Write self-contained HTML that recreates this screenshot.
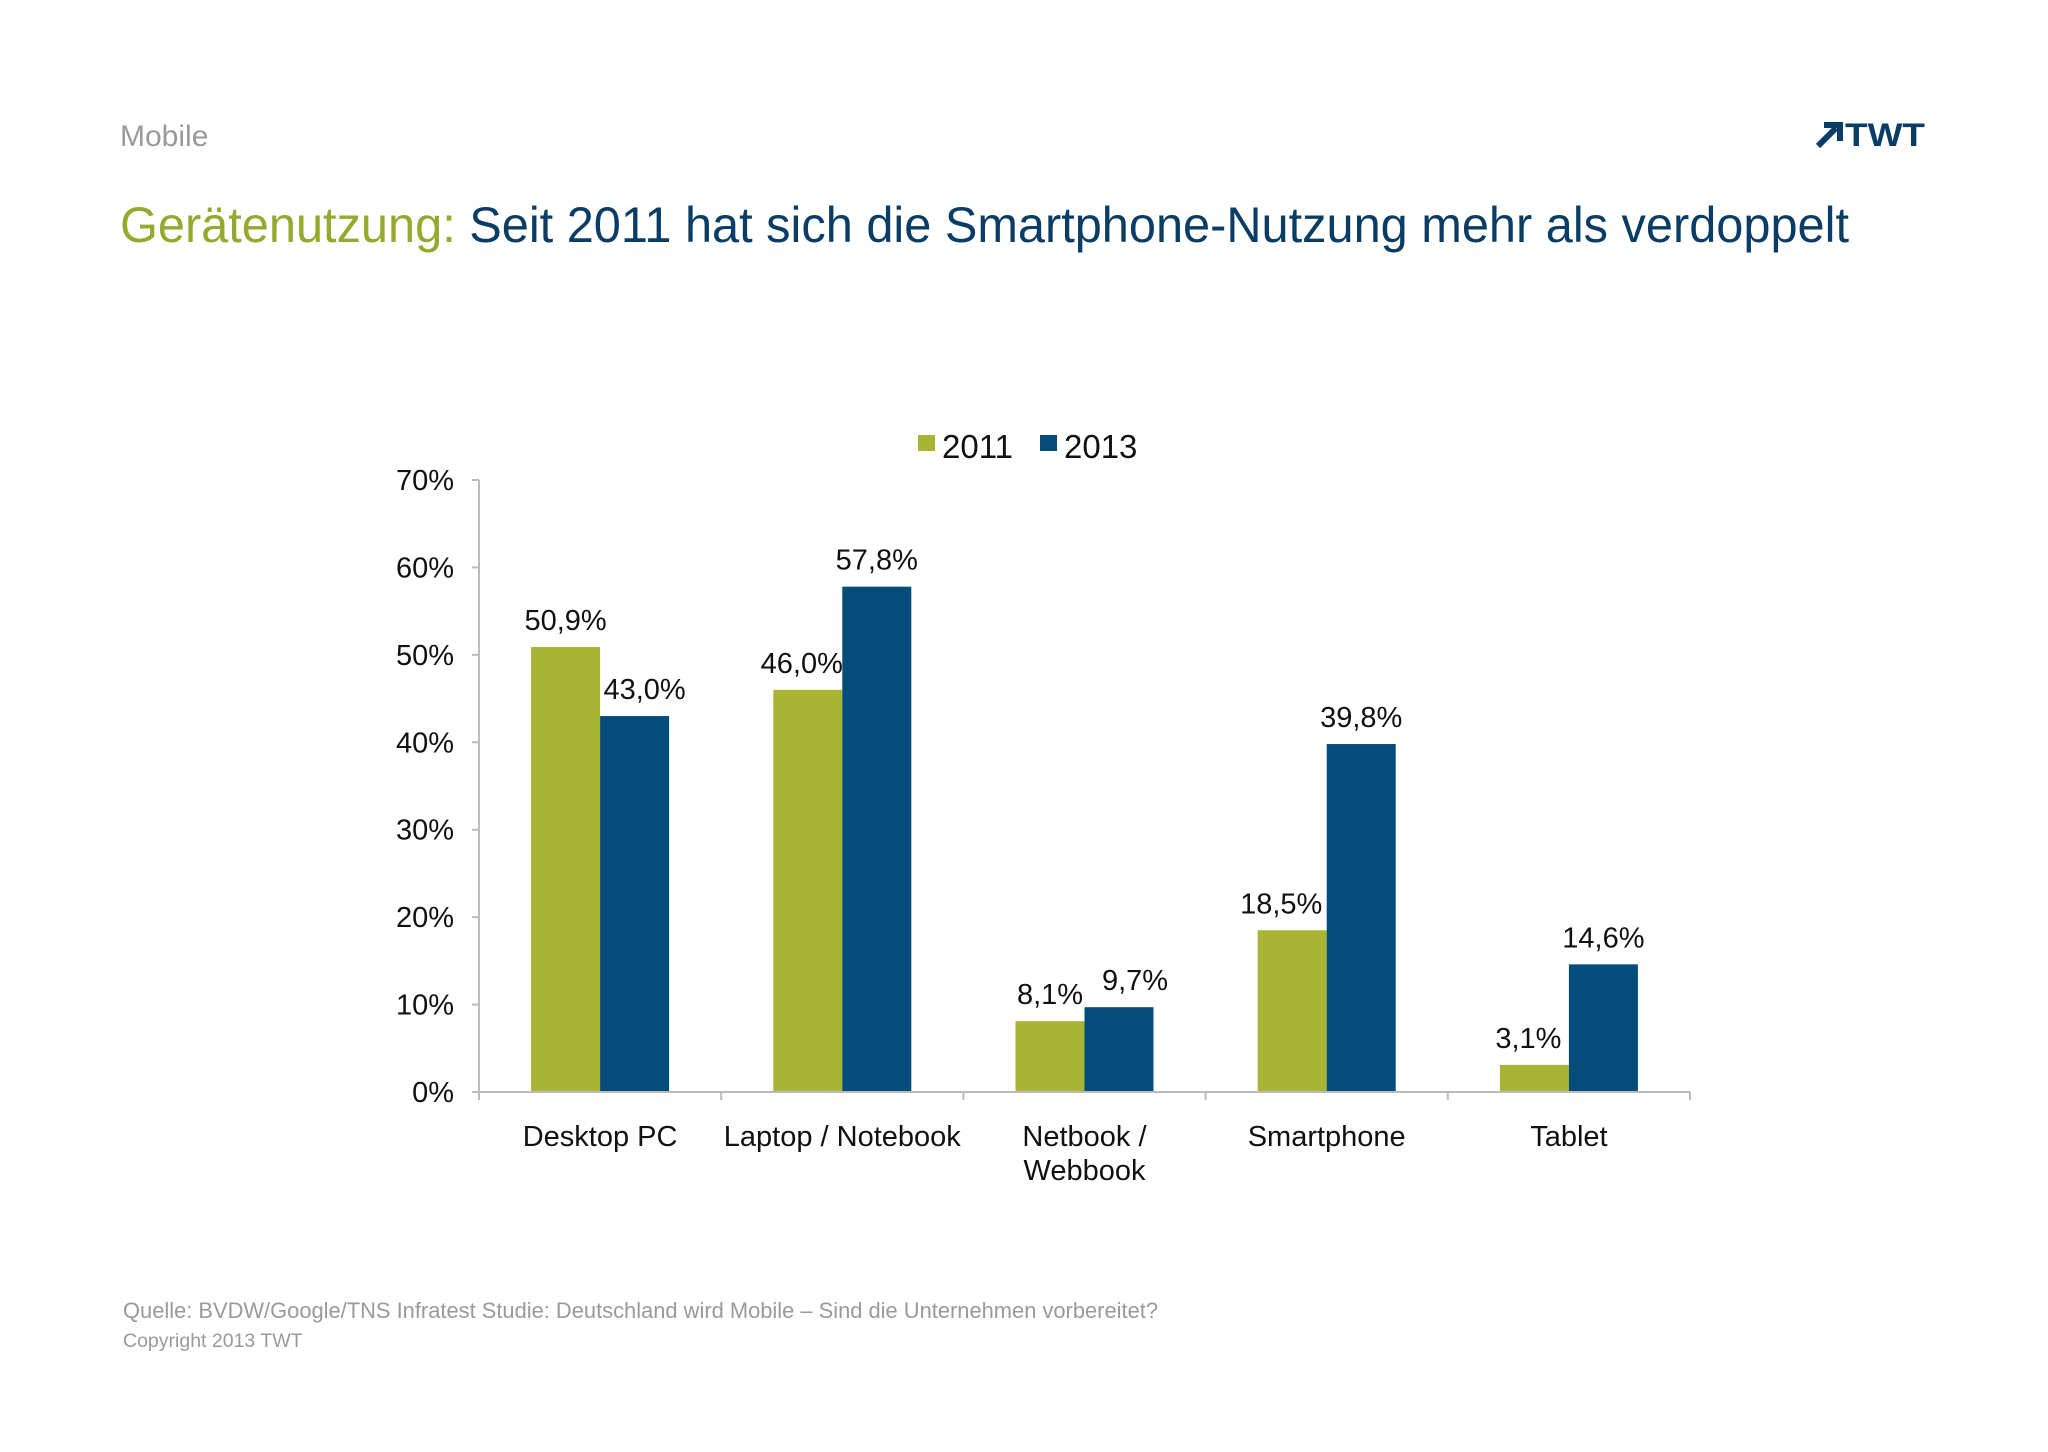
<!DOCTYPE html>
<html><head><meta charset="utf-8"><style>
body{margin:0;background:#fff;}
svg text{font-family:"Liberation Sans",Arial,sans-serif;}
</style></head><body>
<svg width="2048" height="1447" viewBox="0 0 2048 1447" xmlns="http://www.w3.org/2000/svg">
<text x="120" y="146" font-size="30" fill="#9a9a9a">Mobile</text>
<g>
<path d="M1818 146 L1836 128 M1824 125 L1840 125 L1840 141" stroke="#0a3d66" stroke-width="6" fill="none"/>
<text x="1845" y="146" font-size="32" font-weight="bold" fill="#0a3d66" textLength="80" lengthAdjust="spacingAndGlyphs">TWT</text>
</g>
<text x="120" y="242" font-size="50" textLength="1729" lengthAdjust="spacingAndGlyphs"><tspan fill="#95a92e">Gerätenutzung:</tspan><tspan fill="#0a3d66"> Seit 2011 hat sich die Smartphone-Nutzung mehr als verdoppelt</tspan></text>
<g id="legend">
<rect x="918" y="435" width="17" height="16" fill="#a8b534"/>
<text x="942" y="458" font-size="33" fill="#111">2011</text>
<rect x="1040" y="435" width="17" height="16" fill="#044c7a"/>
<text x="1064" y="458" font-size="33" fill="#111">2013</text>
</g>
<g id="chart"></g>
<text x="123" y="1318" font-size="21.8" fill="#9a9a9a" textLength="1035" lengthAdjust="spacingAndGlyphs">Quelle: BVDW/Google/TNS Infratest Studie: Deutschland wird Mobile – Sind die Unternehmen vorbereitet?</text>
<text x="123" y="1347" font-size="19.5" fill="#9a9a9a">Copyright 2013 TWT</text>
</svg>
<script>
const categories=[["Desktop PC"],["Laptop / Notebook"],["Netbook /","Webbook"],["Smartphone"],["Tablet"]];
const values2011=[50.9,46.0,8.1,18.5,3.1];
const values2013=[43.0,57.8,9.7,39.8,14.6];
const yTicks=[0,10,20,30,40,50,60,70];
const labelNudge=[[0,10],[-6,0],[0,16],[-11,0],[-6,0]];
const NS="http://www.w3.org/2000/svg";
const g=document.getElementById('chart');
const X0=479,X1=1690,Y0=1092,Y70=480,YMAX=70;
const cw=(X1-X0)/categories.length, bw=69, gap=(cw-2*bw)/2;
function y(v){return Y0-(v/YMAX)*(Y0-Y70);}
function mk(t,a,txt){const e=document.createElementNS(NS,t);for(const k in a)e.setAttribute(k,a[k]);if(txt!==undefined)e.textContent=txt;g.appendChild(e);return e;}
function fmt(v){return v.toFixed(1).replace('.',',')+'%';}
let ax=mk('line',{x1:X0,y1:Y70,x2:X0,y2:Y0,stroke:'#bbb','stroke-width':2});


yTicks.forEach(t=>{
 let l=mk('line',{x1:X0-7,y1:y(t),x2:X0,y2:y(t),stroke:'#bbb','stroke-width':2});
 
 
 let tx=mk('text',{x:454,y:y(t)+10,'font-size':29,'text-anchor':'end',fill:'#111'},t+'%');
 
 
});
categories.forEach((c,i)=>{
 const gx=X0+i*cw;
 [[values2011[i],'#a8b534','2011'],[values2013[i],'#044c7a','2013']].forEach((s,j)=>{
  const bx=gx+gap+j*bw;
  let r=mk('rect',{x:bx,y:y(s[0]),width:bw,height:Y0-y(s[0]),fill:s[1]});
  
  
  let lt=mk('text',{x:bx+bw/2+labelNudge[i][j],y:y(s[0])-17,'font-size':29,'text-anchor':'middle',fill:'#111'},fmt(s[0]));
  
  
 });
 c.forEach((line,k)=>{
  let ct=mk('text',{x:gx+cw/2,y:1146+k*34,'font-size':29,'text-anchor':'middle',fill:'#111'},line);
  
  
 });
});
let xa=mk('line',{x1:X0,y1:Y0,x2:X1,y2:Y0,stroke:'#bbb','stroke-width':2});


for(let i=0;i<=categories.length;i++){
 let l=mk('line',{x1:X0+i*cw,y1:Y0,x2:X0+i*cw,y2:Y0+8,stroke:'#bbb','stroke-width':2});
 
 
}
</script>
</body></html>
